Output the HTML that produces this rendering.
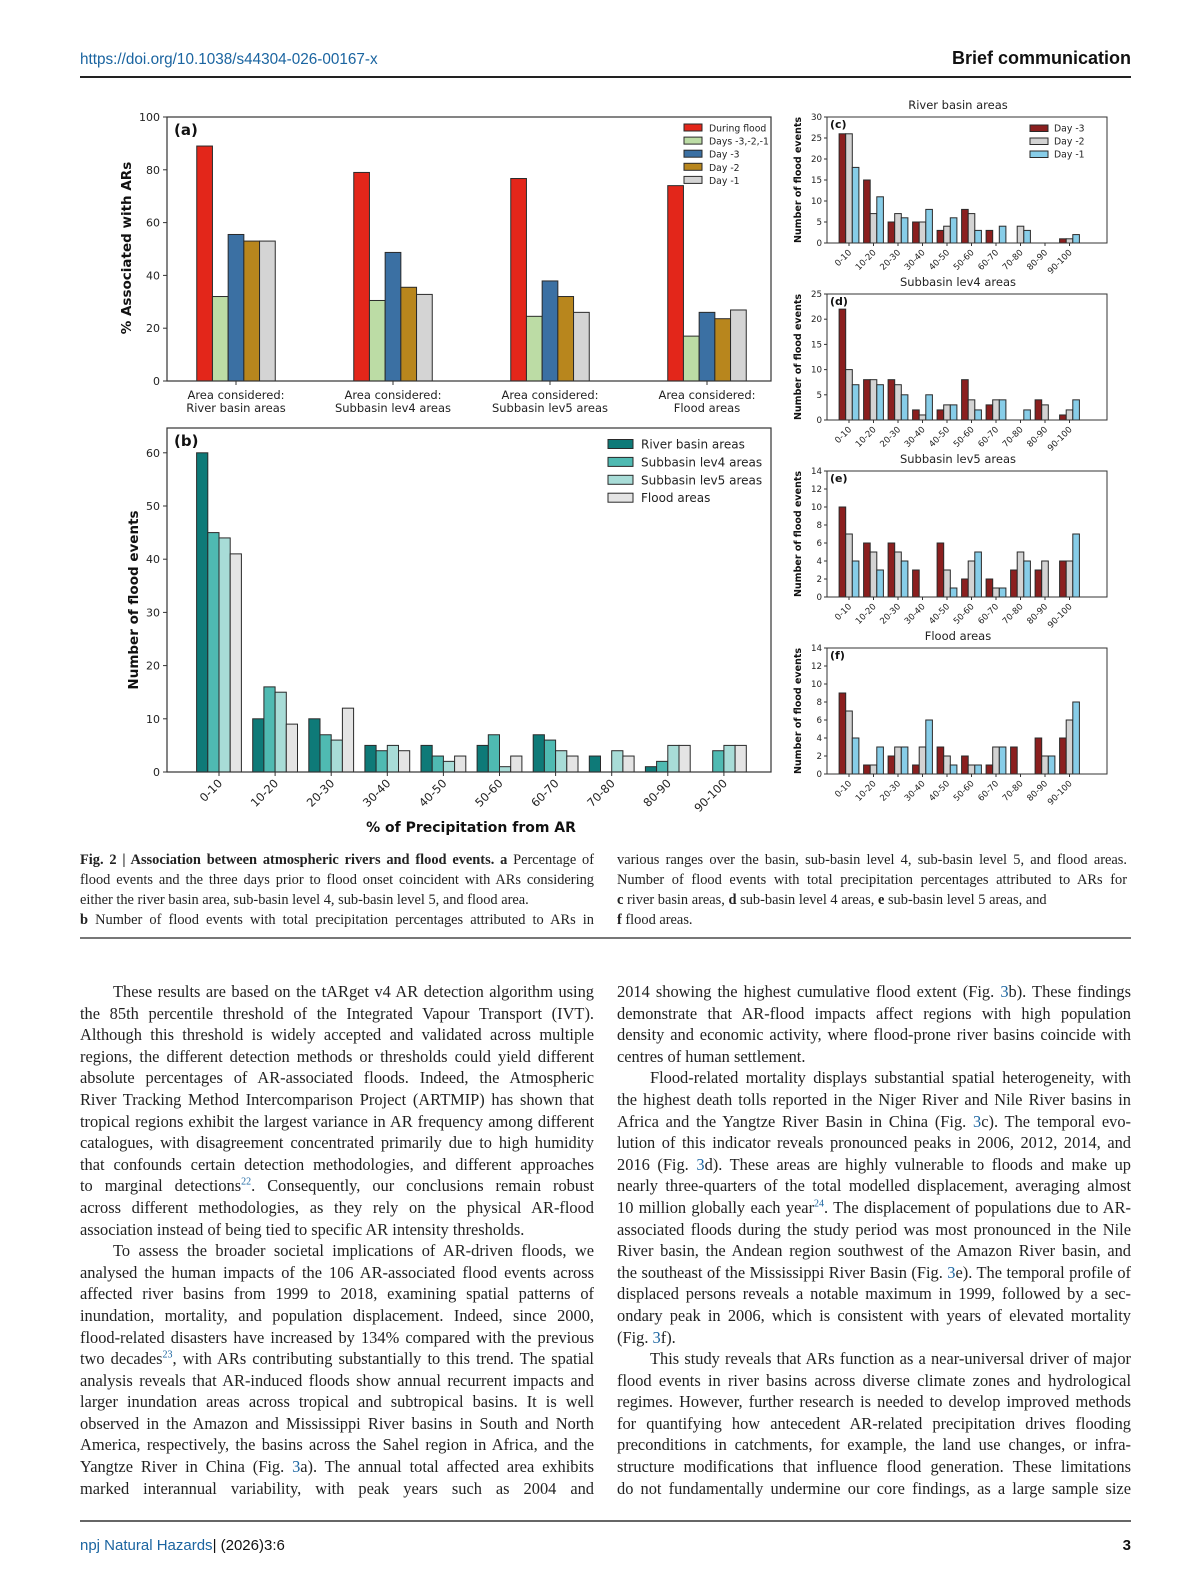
<!DOCTYPE html>
<html><head><meta charset="utf-8">
<style>
body{margin:0;background:#fff;}
#pg{position:relative;width:1200px;height:1594px;overflow:hidden;background:#fff;}
.hdr{position:absolute;font-family:"Liberation Sans",sans-serif;}
.col{position:absolute;font-family:"Liberation Serif",serif;color:#222;}
.col div{white-space:nowrap;}
.j{text-align:justify;text-align-last:justify;white-space:normal!important;}
.b{font-size:16.4px;height:21.6px;line-height:21.6px;}
.c{font-size:14.4px;height:20px;line-height:20px;}
.in{padding-left:33px;}
a,.lk{color:#1a64a0;text-decoration:none;}
sup{font-size:10px;line-height:0;color:#1a64a0;}
</style></head><body><div id="pg">
<div class="hdr" style="left:80px;top:51px;font-size:15.3px;color:#1a64a0;">https://doi.org/10.1038/s44304-026-00167-x</div>
<div class="hdr" style="right:69px;top:48px;font-size:18px;font-weight:bold;color:#111;">Brief communication</div>
<div style="position:absolute;left:80px;top:76px;width:1051px;height:1.5px;background:#222;"></div>

<svg id="fig" width="1200" height="840" style="position:absolute;left:0;top:0" font-family="DejaVu Sans, sans-serif"></svg>

<div class="col" style="left:80px;top:850px;width:514px;">
<div class="c j"><b>Fig. 2 | Association between atmospheric rivers and flood events. a</b> Percentage of</div>
<div class="c j">flood events and the three days prior to flood onset coincident with ARs considering</div>
<div class="c">either the river basin area, sub-basin level 4, sub-basin level 5, and flood area.</div>
<div class="c j"><b>b</b> Number of flood events with total precipitation percentages attributed to ARs in</div>
</div>
<div class="col" style="left:617px;top:850px;width:510px;">
<div class="c j">various ranges over the basin, sub-basin level 4, sub-basin level 5, and flood areas.</div>
<div class="c j">Number of flood events with total precipitation percentages attributed to ARs for</div>
<div class="c"><b>c</b> river basin areas, <b>d</b> sub-basin level 4 areas, <b>e</b> sub-basin level 5 areas, and</div>
<div class="c"><b>f</b> flood areas.</div>
</div>
<div style="position:absolute;left:80px;top:937px;width:1051px;height:2px;background:#777;"></div>

<div class="col" style="left:80px;top:981px;width:514px;">
<div class="b j in">These results are based on the tARget v4 AR detection algorithm using</div>
<div class="b j">the 85th percentile threshold of the Integrated Vapour Transport (IVT).</div>
<div class="b j">Although this threshold is widely accepted and validated across multiple</div>
<div class="b j">regions, the different detection methods or thresholds could yield different</div>
<div class="b j">absolute percentages of AR-associated floods. Indeed, the Atmospheric</div>
<div class="b j">River Tracking Method Intercomparison Project (ARTMIP) has shown that</div>
<div class="b j">tropical regions exhibit the largest variance in AR frequency among different</div>
<div class="b j">catalogues, with disagreement concentrated primarily due to high humidity</div>
<div class="b j">that confounds certain detection methodologies, and different approaches</div>
<div class="b j">to marginal detections<sup>22</sup>. Consequently, our conclusions remain robust</div>
<div class="b j">across different methodologies, as they rely on the physical AR-flood</div>
<div class="b">association instead of being tied to specific AR intensity thresholds.</div>
<div class="b j in">To assess the broader societal implications of AR-driven floods, we</div>
<div class="b j">analysed the human impacts of the 106 AR-associated flood events across</div>
<div class="b j">affected river basins from 1999 to 2018, examining spatial patterns of</div>
<div class="b j">inundation, mortality, and population displacement. Indeed, since 2000,</div>
<div class="b j">flood-related disasters have increased by 134% compared with the previous</div>
<div class="b j">two decades<sup>23</sup>, with ARs contributing substantially to this trend. The spatial</div>
<div class="b j">analysis reveals that AR-induced floods show annual recurrent impacts and</div>
<div class="b j">larger inundation areas across tropical and subtropical basins. It is well</div>
<div class="b j">observed in the Amazon and Mississippi River basins in South and North</div>
<div class="b j">America, respectively, the basins across the Sahel region in Africa, and the</div>
<div class="b j">Yangtze River in China (Fig. <span class="lk">3</span>a). The annual total affected area exhibits</div>
<div class="b j">marked interannual variability, with peak years such as 2004 and</div>
</div>

<div class="col" style="left:617px;top:981px;width:514px;">
<div class="b j">2014 showing the highest cumulative flood extent (Fig. <span class="lk">3</span>b). These findings</div>
<div class="b j">demonstrate that AR-flood impacts affect regions with high population</div>
<div class="b j">density and economic activity, where flood-prone river basins coincide with</div>
<div class="b">centres of human settlement.</div>
<div class="b j in">Flood-related mortality displays substantial spatial heterogeneity, with</div>
<div class="b j">the highest death tolls reported in the Niger River and Nile River basins in</div>
<div class="b j">Africa and the Yangtze River Basin in China (Fig. <span class="lk">3</span>c). The temporal evo-</div>
<div class="b j">lution of this indicator reveals pronounced peaks in 2006, 2012, 2014, and</div>
<div class="b j">2016 (Fig. <span class="lk">3</span>d). These areas are highly vulnerable to floods and make up</div>
<div class="b j">nearly three-quarters of the total modelled displacement, averaging almost</div>
<div class="b j">10 million globally each year<sup>24</sup>. The displacement of populations due to AR-</div>
<div class="b j">associated floods during the study period was most pronounced in the Nile</div>
<div class="b j">River basin, the Andean region southwest of the Amazon River basin, and</div>
<div class="b j">the southeast of the Mississippi River Basin (Fig. <span class="lk">3</span>e). The temporal profile of</div>
<div class="b j">displaced persons reveals a notable maximum in 1999, followed by a sec-</div>
<div class="b j">ondary peak in 2006, which is consistent with years of elevated mortality</div>
<div class="b">(Fig. <span class="lk">3</span>f).</div>
<div class="b j in">This study reveals that ARs function as a near-universal driver of major</div>
<div class="b j">flood events in river basins across diverse climate zones and hydrological</div>
<div class="b j">regimes. However, further research is needed to develop improved methods</div>
<div class="b j">for quantifying how antecedent AR-related precipitation drives flooding</div>
<div class="b j">preconditions in catchments, for example, the land use changes, or infra-</div>
<div class="b j">structure modifications that influence flood generation. These limitations</div>
<div class="b j">do not fundamentally undermine our core findings, as a large sample size</div>
</div>

<div style="position:absolute;left:80px;top:1520px;width:1051px;height:1.5px;background:#666;"></div>
<div class="hdr" style="left:80px;top:1537px;font-size:15px;color:#111;"><span style="color:#1a64a0">npj Natural Hazards</span>| (2026)3:6</div>
<div class="hdr" style="right:69px;top:1537px;font-size:15px;font-weight:bold;color:#111;">3</div>

<script>
var S=document.getElementById('fig'),h='';
function r(x,y,w,hh,f,s,sw){h+='<rect x="'+x.toFixed(2)+'" y="'+y.toFixed(2)+'" width="'+w.toFixed(2)+'" height="'+Math.max(hh,0).toFixed(2)+'" fill="'+f+'" stroke="'+(s||'#2a2a2a')+'" stroke-width="'+(sw||1)+'"/>';}
function t(x,y,s,fs,o){o=o||{};h+='<text x="'+x+'" y="'+y+'" font-size="'+fs+'"'+(o.a?' text-anchor="'+o.a+'"':'')+(o.b?' font-weight="bold"':'')+(o.tr?' transform="'+o.tr+'"':'')+' fill="'+(o.c||'#222')+'">'+s+'</text>';}
function l(x1,y1,x2,y2,c,w){h+='<line x1="'+x1+'" y1="'+y1+'" x2="'+x2+'" y2="'+y2+'" stroke="'+(c||'#333')+'" stroke-width="'+(w||1)+'"/>';}
// Panel a
var ax0=167,ax1=771,at=117,a0=381,as=2.64;
var ca=['#e3261a','#bcdca5','#3b70a3','#b8861d','#d4d4d4'];
var va=[[89,32,55.5,53,53],[79,30.5,48.7,35.5,32.8],[76.7,24.5,37.9,32,26],[74,17,26,23.6,26.9]];
var ga=[236,393,550,707],wa=15.7;
va.forEach(function(g,i){g.forEach(function(v,k){r(ga[i]+(k-2.5)*wa,a0-v*as,wa,v*as,ca[k]);});});
h+='<rect x="'+ax0+'" y="'+at+'" width="'+(ax1-ax0)+'" height="'+(a0-at)+'" fill="none" stroke="#333" stroke-width="1.2"/>';
for(var v=0;v<=100;v+=20){var y=a0-v*as;l(ax0-4,y,ax0,y);t(ax0-7,y+4,v,11,{a:'end'});}
var la=[['Area considered:','River basin areas'],['Area considered:','Subbasin lev4 areas'],['Area considered:','Subbasin lev5 areas'],['Area considered:','Flood areas']];
ga.forEach(function(x,i){l(x,a0,x,a0+4);t(x,a0+18,la[i][0],11.5,{a:'middle'});t(x,a0+31,la[i][1],11.5,{a:'middle'});});
t(174,135,'(a)',15,{b:1,c:'#111'});
t(131,248,'% Associated with ARs',13.5,{b:1,a:'middle',tr:'rotate(-90 131 248)',c:'#111'});
var lga=['During flood','Days -3,-2,-1','Day -3','Day -2','Day -1'];
lga.forEach(function(s,k){var y=128+k*13.1;r(684,y-4,18,7,ca[k]);t(709,y+3.5,s,9.3);});
// Panel b
var bt=428,b0=772,bs=5.32;
var cb=['#0e7a78','#4fbab2','#a8dcd7','#e4e4e4'];
var vb=[[60,45,44,41],[10,16,15,9],[10,7,6,12],[5,4,5,4],[5,3,2,3],[5,7,1,3],[7,6,4,3],[3,0,4,3],[1,2,5,5],[0,4,5,5]];
var cats=['0-10','10-20','20-30','30-40','40-50','50-60','60-70','70-80','80-90','90-100'];
vb.forEach(function(g,i){var cx=219+56.1*i;g.forEach(function(v,k){if(v>0)r(cx+(k-2)*11.2,b0-v*bs,11.2,v*bs,cb[k]);});});
h+='<rect x="'+ax0+'" y="'+bt+'" width="'+(ax1-ax0)+'" height="'+(b0-bt)+'" fill="none" stroke="#333" stroke-width="1.2"/>';
for(var v=0;v<=60;v+=10){var y=b0-v*bs;l(ax0-4,y,ax0,y);t(ax0-7,y+4,v,11,{a:'end'});}
cats.forEach(function(s,i){var x=219+56.1*i;l(x,b0,x,b0+4);t(x+4,b0+12,s,11.5,{a:'end',tr:'rotate(-45 '+(x+4)+' '+(b0+12)+')'});});
t(174,446,'(b)',15,{b:1,c:'#111'});
t(138,600,'Number of flood events',13.5,{b:1,a:'middle',tr:'rotate(-90 138 600)',c:'#111'});
t(471,832,'% of Precipitation from AR',14,{b:1,a:'middle',c:'#111'});
var lgb=['River basin areas','Subbasin lev4 areas','Subbasin lev5 areas','Flood areas'];
lgb.forEach(function(s,k){var y=444+k*17.9;r(608,y-4.5,25,9,cb[k]);t(641,y+4.5,s,12);});
// small panels
var cs=['#8b1f1f','#d3d3d3','#87cde8'];
var P=[
 {top:117,max:30,step:5,lab:'(c)',tt:'River basin areas',v:[[26,26,18],[15,7,11],[5,7,6],[5,5,8],[3,4,6],[8,7,3],[3,0,4],[0,4,3],[0,0,0],[1,1,2]],leg:1},
 {top:294,max:25,step:5,lab:'(d)',tt:'Subbasin lev4 areas',v:[[22,10,7],[8,8,7],[8,7,5],[2,1,5],[2,3,3],[8,4,2],[3,4,4],[0,0,2],[4,3,0],[1,2,4]]},
 {top:471,max:14,step:2,lab:'(e)',tt:'Subbasin lev5 areas',v:[[10,7,4],[6,5,3],[6,5,4],[3,0,0],[6,3,1],[2,4,5],[2,1,1],[3,5,4],[3,4,0],[4,4,7]]},
 {top:648,max:14,step:2,lab:'(f)',tt:'Flood areas',v:[[9,7,4],[1,1,3],[2,3,3],[1,3,6],[3,2,1],[2,1,1],[1,3,3],[3,0,0],[4,2,2],[4,6,8]]}];
var px0=827,px1=1107,ph=126,pw=6.6,c0=849,cd=24.5;
P.forEach(function(p){var z=p.top+ph,sc=ph/p.max;
 p.v.forEach(function(g,i){var cx=c0+cd*i;g.forEach(function(v,k){if(v>0)r(cx+(k-1.5)*pw,z-v*sc,pw,v*sc,cs[k]);});});
 h+='<rect x="'+px0+'" y="'+p.top+'" width="'+(px1-px0)+'" height="'+ph+'" fill="none" stroke="#333" stroke-width="1"/>';
 for(var v=0;v<=p.max;v+=p.step){var y=z-v*sc;l(px0-3,y,px0,y);t(px0-5,y+3,v,8.7,{a:'end'});}
 cats.forEach(function(s,i){var x=c0+cd*i;l(x,z,x,z+3);t(x+3,z+10,s,8.6,{a:'end',tr:'rotate(-45 '+(x+3)+' '+(z+10)+')'});});
 t(830,p.top+11,p.lab,11,{b:1,c:'#111'});
 t(958,p.top-8,p.tt,11.5,{a:'middle'});
 var my=p.top+ph/2;t(801,my,'Number of flood events',9.5,{b:1,a:'middle',tr:'rotate(-90 801 '+my+')',c:'#111'});
 if(p.leg){['Day -3','Day -2','Day -1'].forEach(function(s,k){var y=128+k*13;r(1030,y-3,18,6.5,cs[k]);t(1054,y+3.5,s,9.3);});}
});
S.innerHTML=h;
</script>
</div></body></html>
